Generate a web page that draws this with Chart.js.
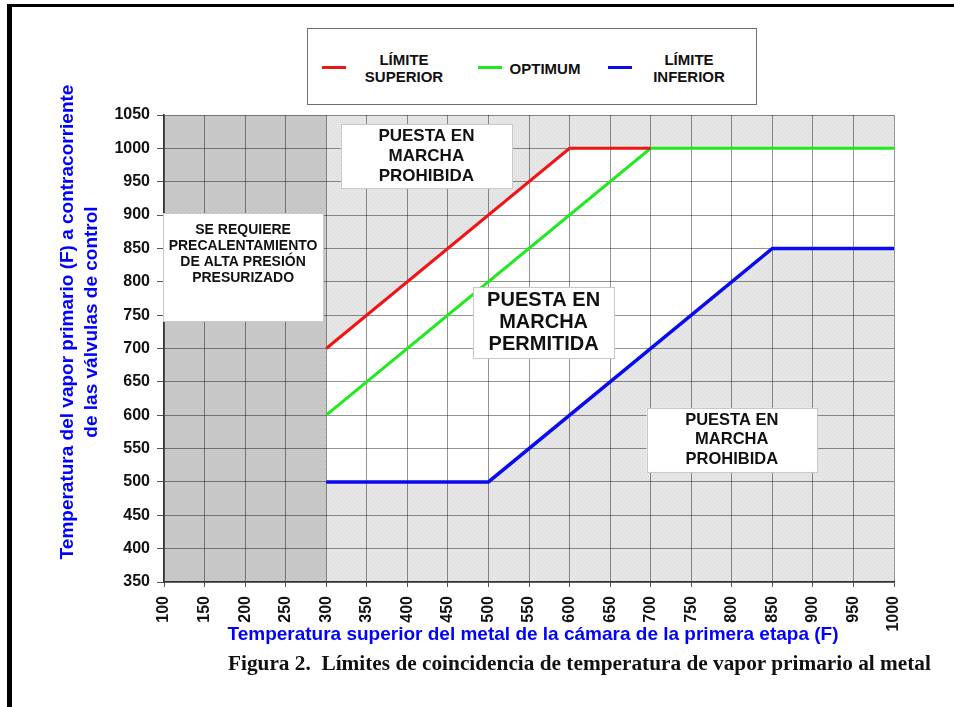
<!DOCTYPE html>
<html>
<head>
<meta charset="utf-8">
<script src="https://cdn.jsdelivr.net/npm/chart.js@4.4.1/dist/chart.umd.min.js"></script>
<style>
  html, body { margin: 0; padding: 0; background: #fff; width: 954px; height: 707px; overflow: hidden; }
  body { font-family: "Liberation Sans", Arial, sans-serif; position: relative; }
  #frame { position: absolute; left: 7px; top: 4px; width: 1200px; height: 1000px; border-left: 5px solid #000; border-top: 3px solid #000; }
  #wrap { position: absolute; left: 0; top: 0; width: 954px; height: 707px; }
  #legend { position: absolute; left: 307px; top: 28px; width: 448px; height: 75px; border: 1px solid #6f6f6f; background: #fff; }
  #legend .swatch { position: absolute; height: 3px; width: 24px; }
  #legend .lbl { position: absolute; width: 120px; text-align: center; font-weight: bold; font-size: 15px; line-height: 17px; color: #111; }
  #caption { position: absolute; left: 228px; top: 651px; font: bold 21.3px "Liberation Serif", "Times New Roman", serif; color: #111; white-space: nowrap; }
</style>
</head>
<body>
<div id="frame"></div>
<div id="wrap"><canvas id="chart" width="954" height="707"></canvas></div>
<div id="legend"></div>
<div id="caption">Figura 2.&nbsp; Límites de coincidencia de temperatura de vapor primario al metal</div>
<script>
(function () {
  "use strict";

  // axis ranges (F)
  var xRange = [100, 1000];
  var yRange = [350, 1050];
  var tickStep = 50;
  var preheatEnd = 300;

  // limit curves
  var upperX = [300, 600, 700];
  var upperY = [700, 1000, 1000];
  var optimumX = [300, 700, 1000];
  var optimumY = [600, 1000, 1000];
  var lowerX = [300, 500, 850, 1000];
  var lowerY = [500, 500, 850, 850];

  var seriesNames = [["LÍMITE", "SUPERIOR"], ["OPTIMUM"], ["LÍMITE", "INFERIOR"]];
  var seriesColors = ["#f01414", "#1eea1e", "#0a0af0"];

  var xTitle = "Temperatura superior del metal de la cámara de la primera etapa (F)";
  var yTitle = ["Temperatura del vapor primario (F) a contracorriente", "de las válvulas de control"];

  // boxed notes, corners in axis units
  var notes = [
    { lines: ["PUESTA EN", "MARCHA", "PROHIBIDA"], x: [318, 529], y: [1036, 940], size: 17, lh: 20 },
    { lines: ["SE REQUIERE", "PRECALENTAMIENTO", "DE ALTA PRESIÓN", "PRESURIZADO"], x: [99, 296], y: [903, 741], size: 14, lh: 16, top: 9 },
    { lines: ["PUESTA EN", "MARCHA", "PERMITIDA"], x: [481, 655], y: [792, 686], size: 20, lh: 22 },
    { lines: ["PUESTA EN", "MARCHA", "PROHIBIDA"], x: [695, 905], y: [611, 515], size: 16.5, lh: 19.5 }
  ];

  function pts(xs, ys) {
    return xs.map(function (v, i) { return { x: v, y: ys[i] }; });
  }

  function stipple(base, dot) {
    var c = document.createElement("canvas");
    c.width = 4; c.height = 4;
    var g = c.getContext("2d");
    g.fillStyle = base; g.fillRect(0, 0, 4, 4);
    g.fillStyle = dot; g.fillRect(0, 0, 1, 1); g.fillRect(2, 2, 1, 1);
    return g.createPattern(c, "repeat");
  }

  // legend
  var legend = document.getElementById("legend");
  var legendPos = [{ sw: 14, cx: 96 }, { sw: 170, cx: 237 }, { sw: 300, cx: 381 }];
  seriesNames.forEach(function (name, i) {
    var s = document.createElement("div");
    s.className = "swatch";
    s.style.left = legendPos[i].sw + "px";
    s.style.top = "37px";
    s.style.background = seriesColors[i];
    legend.appendChild(s);
    var l = document.createElement("div");
    l.className = "lbl";
    l.style.left = (legendPos[i].cx - 60) + "px";
    l.style.top = (name.length > 1 ? 22 : 31) + "px";
    l.innerHTML = name.join("<br>");
    legend.appendChild(l);
  });

  var zones = {
    id: "zones",
    beforeDraw: function (chart) {
      var ctx = chart.ctx, a = chart.chartArea, x = chart.scales.x, y = chart.scales.y;
      ctx.save();
      ctx.fillStyle = stipple("#e6e6e6", "#d8d8d8");
      ctx.fillRect(a.left, a.top, a.right - a.left, a.bottom - a.top);
      var xp = x.getPixelForValue(preheatEnd);
      ctx.fillStyle = stipple("#c9c9c9", "#bcbcbc");
      ctx.fillRect(a.left, a.top, xp - a.left, a.bottom - a.top);
      // permitted band between upper and lower limits
      ctx.beginPath();
      upperX.forEach(function (v, i) {
        var px = x.getPixelForValue(v), py = y.getPixelForValue(upperY[i]);
        if (i === 0) ctx.moveTo(px, py); else ctx.lineTo(px, py);
      });
      ctx.lineTo(x.getPixelForValue(xRange[1]), y.getPixelForValue(upperY[upperY.length - 1]));
      for (var i = lowerX.length - 1; i >= 0; i--) {
        ctx.lineTo(x.getPixelForValue(lowerX[i]), y.getPixelForValue(lowerY[i]));
      }
      ctx.closePath();
      ctx.fillStyle = "#fff";
      ctx.fill();
      ctx.restore();
    },
    afterDatasetsDraw: function (chart) {
      var ctx = chart.ctx, x = chart.scales.x, y = chart.scales.y;
      ctx.save();
      notes.forEach(function (n) {
        var l = x.getPixelForValue(n.x[0]), r = x.getPixelForValue(n.x[1]);
        var t = y.getPixelForValue(n.y[0]), b = y.getPixelForValue(n.y[1]);
        ctx.fillStyle = "#fff";
        ctx.fillRect(l, t, r - l, b - t);
        ctx.strokeStyle = "#c8c8c8";
        ctx.lineWidth = 1;
        ctx.strokeRect(Math.round(l) + 0.5, Math.round(t) + 0.5, Math.round(r - l), Math.round(b - t));
        ctx.fillStyle = "#111";
        ctx.font = "bold " + n.size + "px 'Liberation Sans', Arial, sans-serif";
        ctx.textAlign = "center";
        ctx.textBaseline = "middle";
        var y0 = n.top != null ? t + n.top + n.lh / 2 : (t + b) / 2 - (n.lines.length - 1) * n.lh / 2;
        n.lines.forEach(function (s, i) { ctx.fillText(s, (l + r) / 2, y0 + i * n.lh); });
      });
      ctx.restore();
    },
    afterDraw: function (chart) {
      var ctx = chart.ctx;
      ctx.save();
      ctx.fillStyle = "#0000ff";
      ctx.font = "bold 19px 'Liberation Sans', Arial, sans-serif";
      ctx.textAlign = "center";
      ctx.textBaseline = "middle";
      ctx.fillText(xTitle, 533, 635);
      ctx.translate(68, 322);
      ctx.rotate(-Math.PI / 2);
      ctx.fillText(yTitle[0], 0, 0);
      ctx.fillText(yTitle[1], 0, 24);
      ctx.restore();
    }
  };

  var tickFont = { family: "'Liberation Sans', Arial, sans-serif", size: 16, weight: "bold" };
  var gridColor = "rgba(0,0,0,0.42)";
  var plain = function (v) { return String(v); };

  new Chart(document.getElementById("chart").getContext("2d"), {
    type: "line",
    data: {
      datasets: [
        { data: pts(upperX, upperY), borderColor: seriesColors[0] },
        { data: pts(optimumX, optimumY), borderColor: seriesColors[1] },
        { data: pts(lowerX, lowerY), borderColor: seriesColors[2], borderWidth: 3.5 }
      ]
    },
    options: {
      responsive: false,
      animation: false,
      events: [],
      layout: { padding: { left: 0, top: 115, right: 60, bottom: 0 } },
      elements: {
        line: { borderWidth: 3, tension: 0, fill: false, borderCapStyle: "butt" },
        point: { radius: 0 }
      },
      plugins: { legend: { display: false }, tooltip: { enabled: false } },
      scales: {
        x: {
          type: "linear",
          min: xRange[0], max: xRange[1],
          afterFit: function (s) { s.height = 125; },
          grid: { color: gridColor, tickLength: 5, tickColor: "#555" },
          border: { color: "#333", width: 1.5 },
          ticks: { stepSize: tickStep, autoSkip: false, minRotation: 90, maxRotation: 90, padding: 9, color: "#111", font: tickFont, callback: plain }
        },
        y: {
          type: "linear",
          min: yRange[0], max: yRange[1],
          afterFit: function (s) { s.width = 164; },
          grid: { color: gridColor, tickLength: 7, tickColor: "#555" },
          border: { color: "#333", width: 1.5 },
          ticks: { stepSize: tickStep, autoSkip: false, padding: 7, color: "#111", font: tickFont, callback: plain }
        }
      }
    },
    plugins: [zones]
  });
})();
</script>
</body>
</html>
